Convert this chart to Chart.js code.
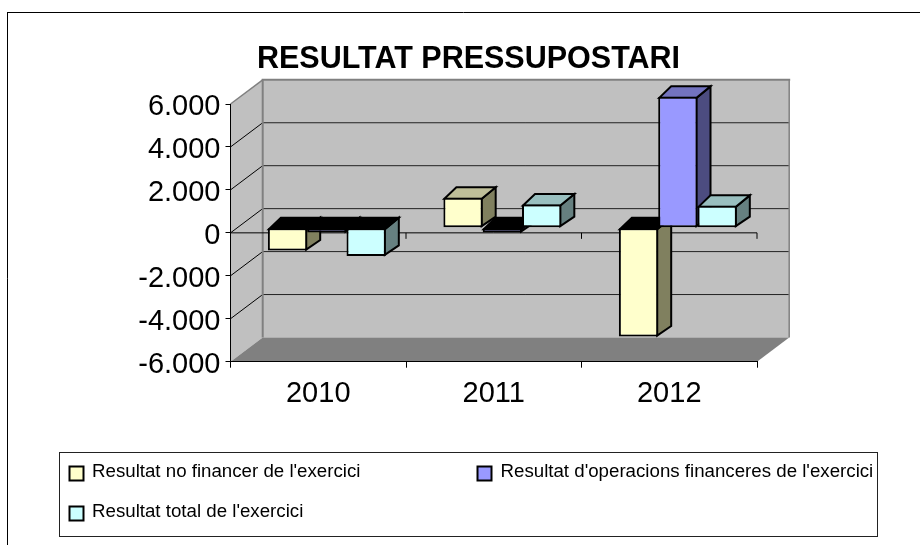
<!DOCTYPE html>
<html>
<head>
<meta charset="utf-8">
<style>html,body{margin:0;padding:0;background:#fff}canvas{display:block}</style>
<script src="https://cdn.jsdelivr.net/npm/chart.js@4"></script>
</head>
<body>
<canvas id="c" width="920" height="545"></canvas>
<script>
const categories = ['2010', '2011', '2012'];
const noFinancer = [-1065, 1390, -5070];
const financeres = [-230, -230, 6090];
const total = [-1315, 1075, 1015];
const seriesNames = ["Resultat no financer de l'exercici", "Resultat d'operacions financeres de l'exercici", "Resultat total de l'exercici"];
const chartTitle = 'RESULTAT PRESSUPOSTARI';
const FONT = '"Liberation Sans", Arial, sans-serif';

// perspective of the walls and of the bars
const WALL = {dx: 32.2, dy: 24.2};
const BAR_SHIFT = {dx: 8.6, dy: -5.2};
const BAR_DEPTH = {dx: 13, dy: 10.5};
const SHADES = [
  {face: '#FFFFCC', side: '#80805F', top: '#BFBF99'},
  {face: '#9999FF', side: '#4C4C80', top: '#7373BF'},
  {face: '#CCFFFF', side: '#668080', top: '#99BFBF'}
];

function poly(ctx, pts, fill, stroke, lw) {
  ctx.beginPath();
  pts.forEach((p, i) => i ? ctx.lineTo(p[0], p[1]) : ctx.moveTo(p[0], p[1]));
  ctx.closePath();
  if (fill) { ctx.fillStyle = fill; ctx.fill(); }
  if (stroke) { ctx.strokeStyle = stroke; ctx.lineWidth = lw; ctx.lineJoin = 'miter'; ctx.stroke(); }
}
function line(ctx, x1, y1, x2, y2, color, lw) {
  ctx.beginPath(); ctx.moveTo(x1, y1); ctx.lineTo(x2, y2);
  ctx.strokeStyle = color; ctx.lineWidth = lw; ctx.stroke();
}

const frame3d = {
  id: 'frame3d',
  afterLayout(chart) {
    chart.titleBlock.left += 90; chart.titleBlock.right += 90;
  },
  beforeDraw(chart) {
    const {ctx, chartArea: a, scales: {y}} = chart;
    const d = WALL;
    ctx.save();
    ctx.fillStyle = '#fff'; ctx.fillRect(0, 0, chart.width, chart.height);
    // outer frame: left and top sides only
    line(ctx, 7.5, 12.5, 7.5, 545, '#000', 1);
    line(ctx, 7, 12.5, 920, 12.5, '#000', 1);
    // side wall, back wall, floor
    poly(ctx, [[a.left, a.top], [a.left + d.dx, a.top - d.dy], [a.left + d.dx, a.bottom - d.dy], [a.left, a.bottom]], '#C0C0C0');
    poly(ctx, [[a.left + d.dx, a.top - d.dy], [a.right + d.dx, a.top - d.dy], [a.right + d.dx, a.bottom - d.dy], [a.left + d.dx, a.bottom - d.dy]], '#C0C0C0');
    poly(ctx, [[a.left, a.bottom], [a.left + d.dx, a.bottom - d.dy], [a.right + d.dx, a.bottom - d.dy], [a.right, a.bottom]], '#808080');
    // grid lines on side and back walls
    y.ticks.forEach(t => {
      const py = y.getPixelForValue(t.value);
      if (t.value > y.min && t.value < y.max) {
        line(ctx, a.left + d.dx, py - d.dy, a.right + d.dx, py - d.dy, '#222', 1);
        line(ctx, a.left, py, a.left + d.dx, py - d.dy, '#000', 1);
      }
    });
    // wall edges
    line(ctx, a.left, a.top, a.left + d.dx, a.top - d.dy, '#808080', 1.5);
    line(ctx, a.left + d.dx, a.top - d.dy, a.left + d.dx, a.bottom - d.dy, '#808080', 2);
    line(ctx, a.left + d.dx - 1, a.top - d.dy, a.right + d.dx + 1, a.top - d.dy, '#808080', 2);
    line(ctx, a.right + d.dx, a.top - d.dy, a.right + d.dx, a.bottom - d.dy, '#808080', 1.5);
    ctx.restore();
  },
  beforeDatasetsDraw(chart) {
    const {ctx, chartArea: a, scales: {x, y}} = chart;
    const py = y.getPixelForValue(0);
    ctx.save();
    line(ctx, a.left, py, a.right, py, '#000', 1);
    const band = (a.right - a.left) / categories.length;
    categories.forEach((c, i) => {
      const px = x.getPixelForValue(i) + band / 2;
      line(ctx, px, py, px, py + 6, '#000', 1);
    });
    // draw series left to right, so each front face covers the previous side face
    ctx.translate(BAR_SHIFT.dx, BAR_SHIFT.dy);
    chart.data.datasets.forEach((ds, di) => {
      const meta = chart.getDatasetMeta(di);
      const shade = SHADES[di];
      meta.data.forEach((el, i) => {
        const p = el.getProps(['x', 'y', 'base', 'width'], true);
        const l = p.x - p.width / 2, r = p.x + p.width / 2;
        const t = Math.min(p.y, p.base), b = Math.max(p.y, p.base);
        const dx = BAR_DEPTH.dx, dy = BAR_DEPTH.dy;
        poly(ctx, [[r - 1, t + 1], [r + dx, t - dy], [r + dx, b - dy], [r - 1, b - 1]], shade.side, '#000', 2);
        poly(ctx, [[l + 1, t + 1], [l + dx, t - dy], [r + dx, t - dy], [r - 1, t + 1]], ds.data[i] < 0 ? '#000' : shade.top, '#000', 2);
      });
      meta.controller.draw();
    });
    ctx.restore();
    return false;
  },
  afterDraw(chart) {
    const {ctx} = chart;
    ctx.save();
    ctx.strokeStyle = '#222'; ctx.lineWidth = 1;
    ctx.strokeRect(59.5, 452.5, 818, 84);
    const slots = [[69.5, 466.5, 92, 472], [477.5, 466.5, 500.5, 472], [69.5, 506.5, 92, 512]];
    seriesNames.forEach((name, i) => {
      const [sx, sy, tx, ty] = slots[i];
      ctx.fillStyle = SHADES[i].face;
      ctx.fillRect(sx, sy, 14, 14);
      ctx.strokeStyle = '#000'; ctx.lineWidth = 2;
      ctx.strokeRect(sx, sy, 14, 14);
      ctx.fillStyle = '#000';
      ctx.font = '18.7px ' + FONT;
      ctx.textBaseline = 'middle';
      ctx.textAlign = 'left';
      ctx.fillText(name, tx, ty);
    });
    ctx.restore();
  }
};

const sets = [noFinancer, financeres, total].map((data, i) => ({
  label: seriesNames[i],
  data,
  backgroundColor: SHADES[i].face,
  borderColor: '#000',
  borderWidth: 2,
  borderSkipped: false,
  categoryPercentage: 0.672,
  barPercentage: 1,
  clip: false
}));

new Chart(document.getElementById('c'), {
  type: 'bar',
  data: {labels: categories, datasets: sets},
  plugins: [frame3d],
  options: {
    responsive: false,
    animation: false,
    layout: {padding: {left: 0, right: 163, top: 0, bottom: 0}},
    plugins: {
      legend: {display: false},
      tooltip: {enabled: false},
      title: {
        display: true,
        text: chartTitle,
        color: '#000',
        font: {family: FONT, size: 30.5, weight: 'bold', lineHeight: 1.2},
        padding: {top: 41, bottom: 26.4}
      }
    },
    scales: {
      x: {
        afterFit(s) { s.height = 183.3; },
        border: {display: true, color: '#000', width: 1},
        grid: {display: true, drawOnChartArea: false, drawTicks: true, tickLength: 6, color: '#000', offset: true},
        ticks: {color: '#000', font: {family: FONT, size: 29}, padding: 9, maxRotation: 0}
      },
      y: {
        min: -6000,
        max: 6000,
        afterFit(s) { s.width = 230.5; },
        border: {display: true, color: '#000', width: 1},
        grid: {display: true, drawOnChartArea: false, drawTicks: true, tickLength: 5, color: '#000'},
        ticks: {
          stepSize: 2000,
          color: '#000',
          padding: 5,
          labelOffset: 3,
          font: {family: FONT, size: 29},
          callback: v => (v < 0 ? '-' : '') + (Math.abs(v) >= 1000 ? Math.floor(Math.abs(v) / 1000) + '.000' : '0')
        }
      }
    }
  }
});
</script>
</body>
</html>
